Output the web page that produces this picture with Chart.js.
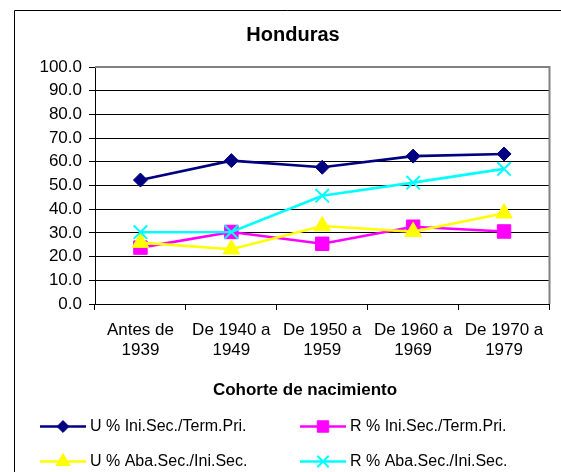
<!DOCTYPE html>
<html>
<head>
<meta charset="utf-8">
<script src="https://cdn.jsdelivr.net/npm/chart.js@4/dist/chart.umd.min.js"></script>
<style>
html,body{margin:0;padding:0;background:#fff;}
canvas{display:block;}
</style>
</head>
<body>
<canvas id="c" width="561" height="472"></canvas>
<script>
const categories = [["Antes de","1939"],["De 1940 a","1949"],["De 1950 a","1959"],["De 1960 a","1969"],["De 1970 a","1979"]];
const seriesNames = ["U % Ini.Sec./Term.Pri.","R % Ini.Sec./Term.Pri.","U % Aba.Sec./Ini.Sec.","R % Aba.Sec./Ini.Sec."];
const uIniSec = [52.3, 60.5, 57.7, 62.4, 63.3];
const rIniSec = [23.8, 30.4, 25.4, 32.6, 30.6];
const uAbaSec = [25.9, 23.1, 32.9, 30.5, 38.3];
const rAbaSec = [30.3, 30.4, 45.7, 51.2, 57.0];
const chartTitle = "Honduras";
const xTitle = "Cohorte de nacimiento";

const FONT = "'Liberation Sans', Arial, sans-serif";

function mk(label, data, color, style, radius, order, bw) {
  return {
    label, data, borderColor: color, backgroundColor: color,
    pointStyle: style, pointRadius: radius, pointHoverRadius: radius,
    pointBorderWidth: bw, pointBackgroundColor: color, pointBorderColor: color,
    borderWidth: 2.6, tension: 0, fill: false, order
  };
}

const datasets = [
  mk(seriesNames[0], uIniSec, '#000080', 'rectRot', 7, 4, 1),
  mk(seriesNames[1], rIniSec, '#FF00FF', 'rect', 9.5, 3, 1),
  mk(seriesNames[2], uAbaSec, '#FFFF00', 'triangle', 9.5, 2, 1),
  mk(seriesNames[3], rAbaSec, '#00FFFF', 'crossRot', 9.5, 1, 2)
];

const framePlugin = {
  id: 'frame',
  beforeDatasetsDraw(chart) {
    const ctx = chart.ctx, a = chart.chartArea;
    ctx.save();
    ctx.strokeStyle = '#808080';
    ctx.lineWidth = 2;
    ctx.beginPath();
    ctx.moveTo(a.left, a.top);
    ctx.lineTo(a.right, a.top);
    ctx.lineTo(a.right, a.bottom);
    ctx.stroke();
    ctx.restore();
  },
  afterDraw(chart) {
    const ctx = chart.ctx;
    ctx.save();
    ctx.strokeStyle = '#000';
    ctx.lineWidth = 1;
    ctx.beginPath();
    ctx.moveTo(14.5, 472);
    ctx.lineTo(14.5, 10.5);
    ctx.lineTo(561, 10.5);
    ctx.stroke();
    // x axis title
    ctx.fillStyle = '#000';
    ctx.font = 'bold 17px ' + FONT;
    ctx.textAlign = 'center';
    ctx.textBaseline = 'middle';
    ctx.fillText(xTitle, 305, 390);
    // legend
    const pos = [[40, 426.5], [300, 426.5], [40, 461.5], [300, 461.5]];
    ctx.font = '16px ' + FONT;
    ctx.textBaseline = 'middle';
    ctx.textAlign = 'left';
    datasets.forEach((ds, i) => {
      const [x, y] = pos[i];
      ctx.strokeStyle = ds.borderColor;
      ctx.lineWidth = 2.6;
      ctx.beginPath();
      ctx.moveTo(x, y);
      ctx.lineTo(x + 46, y);
      ctx.stroke();
      ctx.fillStyle = ds.pointBackgroundColor;
      ctx.strokeStyle = ds.pointBorderColor;
      ctx.lineWidth = ds.pointBorderWidth;
      if (Chart.helpers && Chart.helpers.drawPoint) {
        Chart.helpers.drawPoint(ctx, {pointStyle: ds.pointStyle, rotation: 0, radius: ds.pointRadius * 0.85, borderWidth: ds.pointBorderWidth}, x + 23, y);
      }
      ctx.fillStyle = '#000';
      ctx.fillText(ds.label, x + 50, y);
    });
    ctx.restore();
  }
};

new Chart(document.getElementById('c'), {
  type: 'line',
  data: { labels: categories, datasets },
  plugins: [framePlugin],
  options: {
    responsive: false,
    animation: false,
    devicePixelRatio: 1,
    layout: { padding: { left: 34, right: 9, top: 0, bottom: 72 } },
    plugins: {
      legend: { display: false },
      tooltip: { enabled: false },
      title: {
        display: true, text: chartTitle, color: '#000',
        font: { family: FONT, size: 20, weight: 'bold', lineHeight: 1.2 },
        padding: { top: 23, bottom: 20 }
      }
    },
    scales: {
      x: {
        offset: true,
        afterFit(s) { s.height = 96; },
        grid: { drawOnChartArea: false, drawTicks: true, tickLength: 6, color: '#000', offset: true },
        border: { color: '#000', width: 1 },
        ticks: { color: '#000', padding: 10, maxRotation: 0, autoSkip: false,
          font: { family: FONT, size: 17, lineHeight: 1.18 } },
        title: { display: false }
      },
      y: {
        min: 0, max: 100,
        afterFit(s) { s.width = 61; },
        grid: { color: '#000', lineWidth: 1, drawTicks: true, tickLength: 6 },
        border: { color: '#000', width: 1 },
        ticks: { stepSize: 10, color: '#000', padding: 7,
          font: { family: FONT, size: 17 },
          callback: v => Number(v).toFixed(1) }
      }
    }
  }
});
</script>
</body>
</html>
